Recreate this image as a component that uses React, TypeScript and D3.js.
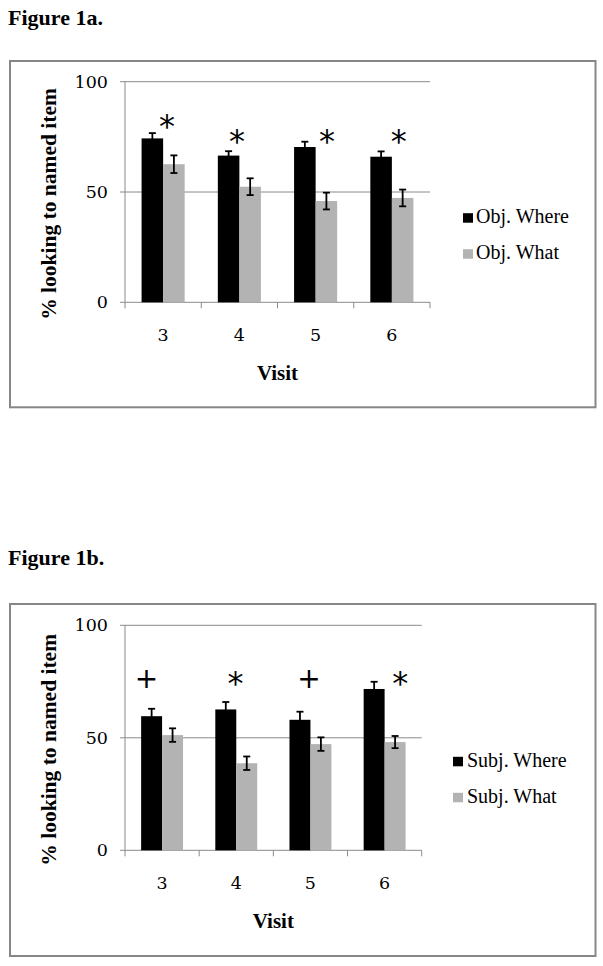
import React from "react";
import * as d3 from "d3";

// ---------- data ----------
const visits = ["3", "4", "5", "6"];
const yTicks = [0, 50, 100];

const objSeries = ["Obj. Where", "Obj. What"];
const objWhere = [74.3, 66.5, 70.4, 66.0];
const objWhereErr = [2.4, 2.0, 2.4, 2.4];
const objWhat = [62.6, 52.4, 45.9, 47.3];
const objWhatErr = [4.0, 3.8, 3.8, 3.8];
const objSig = ["*", "*", "*", "*"];
const objSigY = [83.5, 76.7, 76.7, 76.7];

const subjSeries = ["Subj. Where", "Subj. What"];
const subjWhere = [59.6, 62.6, 58.0, 71.7];
const subjWhereErr = [3.3, 3.3, 3.6, 3.2];
const subjWhat = [51.2, 38.7, 47.2, 48.1];
const subjWhatErr = [3.0, 3.0, 3.0, 2.7];
const subjSig = ["+", "*", "+", "*"];
const subjSigY = [76.1, 77.9, 76.1, 77.9];

const colors = ["#000000", "#b3b3b3"];
const GRID = "#8a8a8a";

type FigProps = {
  title: string;
  titleY: number;
  boxTop: number;
  boxBottom: number;
  plotTop: number;
  plotBottom: number;
  plotLeft: number;
  plotRight: number;
  series: string[];
  values: number[][];
  errs: number[][];
  sig: string[];
  sigY: number[];
  sigFrac: number[];
  legSquareX: number;
  legTextX: number;
};

function Figure(p: FigProps) {
  const y = d3.scaleLinear().domain([0, 100]).range([p.plotBottom, p.plotTop]);
  const x0 = d3.scaleBand<string>().domain(visits).range([p.plotLeft, p.plotRight]).padding(0);
  const x1 = d3
    .scaleBand<string>()
    .domain(p.series)
    .range([0, x0.bandwidth()])
    .paddingInner(0)
    .paddingOuter(0.77);
  const bw = x1.bandwidth();
  const boundaries = [...visits.map((v) => x0(v)!), p.plotRight];
  const legBase = [p.plotTop + 141.5, p.plotTop + 177.5];
  const sigOffset: Record<string, number> = { "*": 0.6, "+": 0.33 };
  const sigSize: Record<string, number> = { "*": 32, "+": 28 };

  return (
    <g>
      <text
        x={8}
        y={p.titleY}
        fontFamily="Liberation Serif, Times New Roman, serif"
        fontWeight="bold"
        fontSize={22}
        fill="#000"
      >
        {p.title}
      </text>
      <rect
        x={10}
        y={p.boxTop}
        width={585.5}
        height={p.boxBottom - p.boxTop}
        fill="none"
        stroke="#868686"
        strokeWidth={2}
      />
      {/* gridlines */}
      {yTicks.map((t) => (
        <line
          key={"g" + t}
          x1={p.plotLeft - 5}
          x2={p.plotRight}
          y1={y(t)}
          y2={y(t)}
          stroke={GRID}
          strokeWidth={1}
        />
      ))}
      {/* y axis line */}
      <line x1={p.plotLeft} x2={p.plotLeft} y1={y(100)} y2={y(0)} stroke={GRID} strokeWidth={1} />
      {/* x ticks */}
      {boundaries.map((bx, i) => (
        <line key={"xt" + i} x1={bx} x2={bx} y1={y(0)} y2={y(0) + 6} stroke={GRID} strokeWidth={1} />
      ))}
      {/* y tick labels */}
      {yTicks.map((t) => (
        <text
          key={"yl" + t}
          x={p.plotLeft - 17}
          y={y(t) + 6}
          textAnchor="end"
          fontFamily="DejaVu Serif, serif"
          fontSize={17.5}
          fill="#000"
        >
          {t}
        </text>
      ))}
      {/* bars */}
      {p.series.map((s, si) =>
        visits.map((v, vi) => {
          const bx = x0(v)! + x1(s)!;
          const val = p.values[si][vi];
          return (
            <rect
              key={s + v}
              x={bx}
              y={y(val)}
              width={bw}
              height={y(0) - y(val)}
              fill={colors[si]}
            />
          );
        })
      )}
      {/* error bars */}
      {p.series.map((s, si) =>
        visits.map((v, vi) => {
          const cx = x0(v)! + x1(s)! + bw / 2;
          const val = p.values[si][vi];
          const e = p.errs[si][vi];
          const cw = 3.5;
          return (
            <g key={"e" + s + v} stroke="#000" strokeWidth={1.8}>
              <line x1={cx} x2={cx} y1={y(val + e)} y2={y(val - e)} />
              <line x1={cx - cw} x2={cx + cw} y1={y(val + e)} y2={y(val + e)} />
              <line x1={cx - cw} x2={cx + cw} y1={y(val - e)} y2={y(val - e)} />
            </g>
          );
        })
      )}
      {/* significance markers */}
      {visits.map((v, vi) => (
        <text
          key={"s" + v}
          x={x0(v)! + x0.bandwidth() * p.sigFrac[vi]}
          y={y(p.sigY[vi]) + sigOffset[p.sig[vi]] * sigSize[p.sig[vi]]}
          textAnchor="middle"
          fontFamily="DejaVu Sans, sans-serif"
          fontSize={sigSize[p.sig[vi]]}
          fill="#000"
        >
          {p.sig[vi]}
        </text>
      ))}
      {/* x tick labels */}
      {visits.map((v) => (
        <text
          key={"xl" + v}
          x={x0(v)! + x0.bandwidth() / 2}
          y={y(0) + 39}
          textAnchor="middle"
          fontFamily="DejaVu Serif, serif"
          fontSize={17.5}
          fill="#000"
        >
          {v}
        </text>
      ))}
      {/* x axis title */}
      <text
        x={(p.plotLeft + p.plotRight) / 2}
        y={y(0) + 77.5}
        textAnchor="middle"
        fontFamily="Liberation Serif, serif"
        fontWeight="bold"
        fontSize={21}
        fill="#000"
      >
        Visit
      </text>
      {/* y axis title */}
      <text
        transform={`translate(56,${(p.plotTop + p.plotBottom) / 2 + 12}) rotate(-90)`}
        textAnchor="middle"
        fontFamily="Liberation Serif, serif"
        fontWeight="bold"
        fontSize={21.5}
        fill="#000"
      >
        % looking to named item
      </text>
      {/* legend */}
      {p.series.map((s, si) => (
        <g key={"lg" + s}>
          <rect x={p.legSquareX} y={legBase[si] - 10} width={10} height={9.5} fill={colors[si]} />
          <text
            x={p.legTextX}
            y={legBase[si]}
            fontFamily="Liberation Serif, serif"
            fontSize={20}
            fill="#000"
          >
            {s}
          </text>
        </g>
      ))}
    </g>
  );
}

export default function App() {
  return (
    <svg
      width={603}
      height={966}
      style={{ position: "absolute", left: 0, top: 0, background: "#fff" }}
    >
      <rect x={0} y={0} width={603} height={966} fill="#fff" />
      <Figure
        title="Figure 1a."
        titleY={25}
        boxTop={61}
        boxBottom={407.3}
        plotTop={81.7}
        plotBottom={302.3}
        plotLeft={125}
        plotRight={430}
        series={objSeries}
        values={[objWhere, objWhat]}
        errs={[objWhereErr, objWhatErr]}
        sig={objSig}
        sigY={objSigY}
        sigFrac={[0.55, 0.47, 0.65, 0.59]}
        legSquareX={463}
        legTextX={476}
      />
      <Figure
        title="Figure 1b."
        titleY={565}
        boxTop={604}
        boxBottom={956}
        plotTop={625.3}
        plotBottom={850.3}
        plotLeft={125}
        plotRight={421.7}
        series={subjSeries}
        values={[subjWhere, subjWhat]}
        errs={[subjWhereErr, subjWhatErr]}
        sig={subjSig}
        sigY={subjSigY}
        sigFrac={[0.29, 0.49, 0.48, 0.71]}
        legSquareX={453}
        legTextX={467}
      />
    </svg>
  );
}
